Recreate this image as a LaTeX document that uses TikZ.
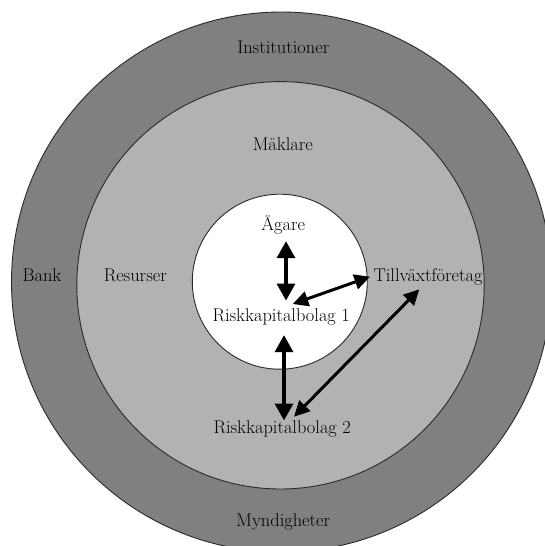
\documentclass[tikz,border=0pt]{standalone}
\usetikzlibrary{arrows.meta,calc}
\definecolor{outerring}{HTML}{808080}
\definecolor{middlering}{HTML}{B2B2B2}
\definecolor{rim}{HTML}{2A2A2A}
\begin{document}
\begin{tikzpicture}[x=1pt,y=-1pt,
  ring/.style={draw=rim,line width=0.9pt},
  label/.style={inner sep=0pt,anchor=base,font=\fontsize{18.4}{20}\selectfont,text=black},
  boldlink/.style={line width=4.6pt,{Triangle[length=17pt,width=17.5pt]}-{Triangle[length=17pt,width=17.5pt]}},
  thinlink/.style={line width=3pt,{Triangle[length=15.5pt,width=15pt]}-{Triangle[length=15.5pt,width=15pt]}}]
\useasboundingbox (0,0) rectangle (545,546);
\clip (0,0) rectangle (545,546);
\fill[white] (0,0) rectangle (545,546);

% three nested rings
\draw[ring,fill=outerring]  (281.5,282) circle[radius=270];
\draw[ring,fill=middlering] (280.5,285.3) circle[radius=203.7];
\draw[ring,fill=white]      (279.8,281.7) circle[radius=87.5];

% labels
\node[label] (inst) at (283.3,53.3)  {Institutioner};
\node[label] (makl) at (282.8,150)   {Mäklare};
\node[label] (agare) at (283.2,230.7) {Ägare};
\node[label] (bank) at (42,281.7)    {Bank};
\node[label] (res)  at (135.3,281.7) {Resurser};
\node[label] (till) at (428,281.7)   {Tillväxtföretag};
\node[label] (rk1)  at (281.2,321.7) {Riskkapitalbolag 1};
\node[label] (rk2)  at (282.2,433.3) {Riskkapitalbolag 2};
\node[label] (myn)  at (283.3,526)   {Myndigheter};

% relations
\draw[boldlink] ($(agare.base)+(2.8,10.3)$) -- ($(rk1.base)+(4.8,-21)$);
\draw[thinlink] ($(rk1.base)+(11.5,-17.7)$) -- ($(till.base)+(-58,-5)$);
\draw[boldlink] ($(rk1.base)+(2.8,13.3)$) -- ($(rk2.base)+(1.8,-12.7)$);
\draw[thinlink] ($(rk2.base)+(11.8,-16.6)$) -- ($(till.base)+(-8.7,7.6)$);
\end{tikzpicture}
\end{document}
